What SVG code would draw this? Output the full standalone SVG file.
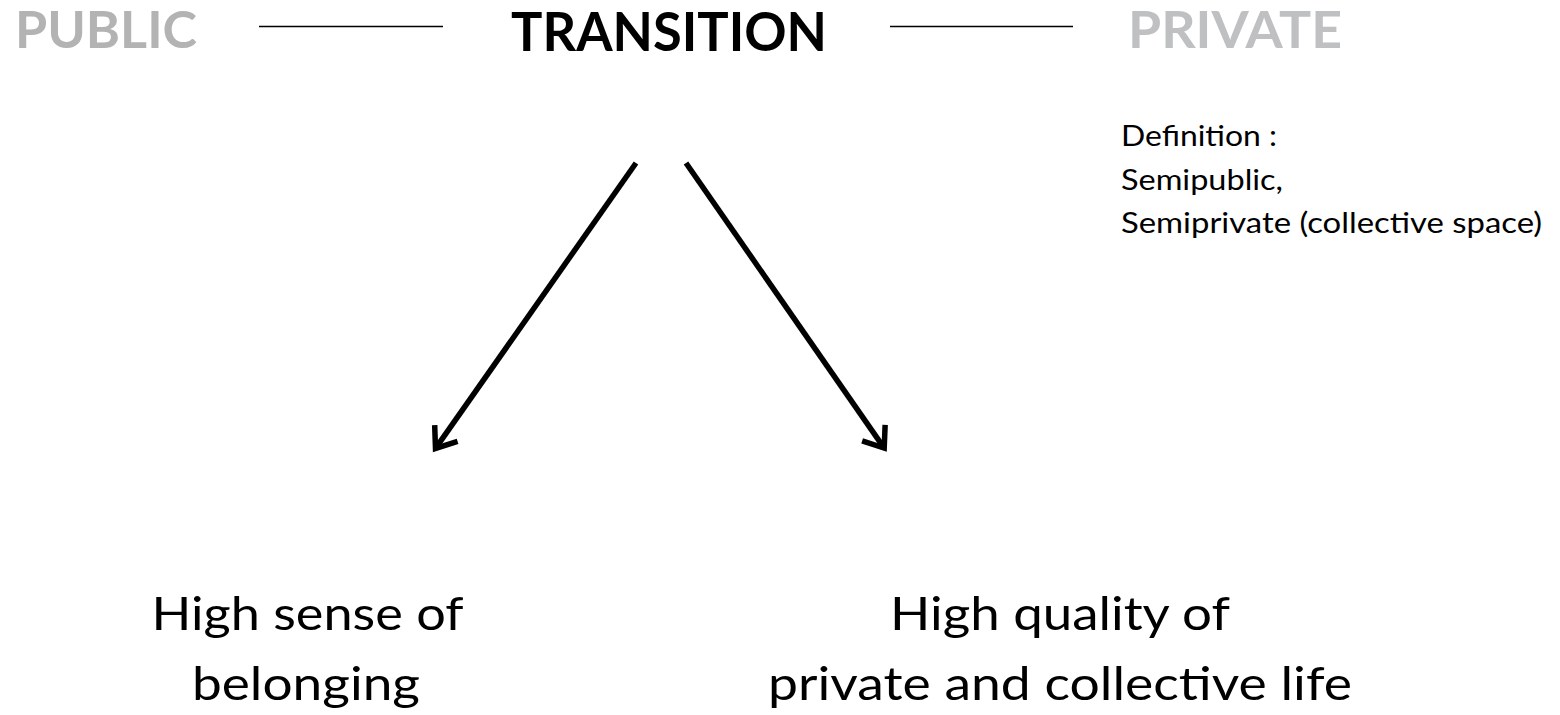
<svg xmlns="http://www.w3.org/2000/svg" width="1560" height="715" viewBox="0 0 1560 715">
  <defs>
    <style>
      .hdr { font-family: Lato, "Open Sans", "Liberation Sans", sans-serif; font-weight: bold; }
      .txt { font-family: Lato, "Open Sans", "Liberation Sans", sans-serif; fill: #000; }
      .rule { stroke: #000; stroke-width: 1.5; }
      .conn { stroke: #000; stroke-width: 5.5; fill: none; marker-end: url(#chev); }
    </style>
    <marker id="chev" markerUnits="userSpaceOnUse" orient="auto" markerWidth="40" markerHeight="40" refX="0" refY="0" viewBox="-25 -20 35 40" overflow="visible">
      <path d="M-18.5,-14 L0,0 L-18.5,14" fill="none" stroke="#000" stroke-width="5.5" stroke-miterlimit="10"/>
    </marker>
  </defs>
  <rect width="1560" height="715" fill="#fff"/>

  <g id="public">
    <text class="hdr" x="15" y="48" font-size="51" fill="#b3b3b3" textLength="182" lengthAdjust="spacingAndGlyphs">PUBLIC</text>
  </g>
  <g id="transition">
    <text class="hdr" x="511" y="51" font-size="54" fill="#000" textLength="316" lengthAdjust="spacingAndGlyphs">TRANSITION</text>
  </g>
  <g id="private">
    <text class="hdr" x="1128" y="48" font-size="51" fill="#bfc0c2" textLength="214" lengthAdjust="spacingAndGlyphs">PRIVATE</text>
  </g>

  <g id="rules">
    <line class="rule" x1="259" y1="26.5" x2="443" y2="26.5"/>
    <line class="rule" x1="890" y1="26.5" x2="1073" y2="26.5"/>
  </g>

  <g id="definition">
    <text class="txt" x="1121" y="146" font-size="28" textLength="156" lengthAdjust="spacingAndGlyphs">Definition :</text>
    <text class="txt" x="1121" y="190" font-size="28" textLength="162" lengthAdjust="spacingAndGlyphs">Semipublic,</text>
    <text class="txt" x="1121" y="233" font-size="28" textLength="421" lengthAdjust="spacingAndGlyphs">Semiprivate (collective space)</text>
  </g>

  <g id="connectors">
    <line class="conn" x1="636" y1="163" x2="435.5" y2="448.4"/>
    <line class="conn" x1="686" y1="163" x2="884.2" y2="448.1"/>
  </g>

  <g id="belonging">
    <text class="txt" x="307.5" y="630" font-size="46" text-anchor="middle" textLength="312" lengthAdjust="spacingAndGlyphs">High sense of</text>
    <text class="txt" x="306" y="700" font-size="46" text-anchor="middle" textLength="228" lengthAdjust="spacingAndGlyphs">belonging</text>
  </g>

  <g id="quality">
    <text class="txt" x="1060" y="630" font-size="46" text-anchor="middle" textLength="340" lengthAdjust="spacingAndGlyphs">High quality of</text>
    <text class="txt" x="1060" y="700" font-size="46" text-anchor="middle" textLength="584" lengthAdjust="spacingAndGlyphs">private and collective life</text>
  </g>
</svg>
